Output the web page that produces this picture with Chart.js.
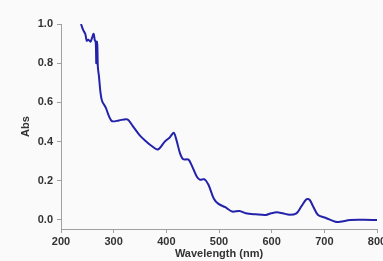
<!DOCTYPE html>
<html>
<head>
<meta charset="utf-8">
<script src="https://cdn.jsdelivr.net/npm/chart.js@4.4.1/dist/chart.umd.min.js"></script>
<style>
  html, body { margin: 0; padding: 0; background: #fafafa; }
  #wrap { width: 383px; height: 261px; }
</style>
</head>
<body>
<div id="wrap"><canvas id="myChart" width="383" height="261"></canvas></div>
<script>
// spectrum
var wavelengths = [238, 242, 246, 249, 252, 256, 259, 262, 264, 266, 267, 268, 269, 270, 272, 275, 278, 285, 291, 297, 310, 326, 336, 350, 362, 371, 384, 397, 406, 414, 419, 426, 432, 442, 448, 458, 464, 472, 480, 490, 499, 512, 525, 539, 551, 570, 589, 599, 610, 621, 634, 647, 656, 666, 672, 679, 688, 704, 721, 730, 749, 775, 800];
var absorbance = [1.0, 0.97, 0.95, 0.915, 0.92, 0.91, 0.93, 0.95, 0.92, 0.905, 0.80, 0.91, 0.89, 0.78, 0.735, 0.65, 0.607, 0.573, 0.53, 0.504, 0.508, 0.513, 0.48, 0.43, 0.40, 0.38, 0.36, 0.40, 0.42, 0.445, 0.41, 0.34, 0.31, 0.308, 0.28, 0.22, 0.205, 0.208, 0.18, 0.11, 0.082, 0.065, 0.043, 0.046, 0.034, 0.029, 0.026, 0.034, 0.039, 0.034, 0.027, 0.034, 0.068, 0.106, 0.103, 0.068, 0.026, 0.009, -0.009, -0.009, 0.0, 0.001, 0.0];
var xTicks = [200, 300, 400, 500, 600, 700, 800];
var yTicks = [0.0, 0.2, 0.4, 0.6, 0.8, 1.0];

var points = wavelengths.map((w, i) => ({ x: w, y: absorbance[i] }));

var axisColor = "#a0a0a0";
var textColor = "#333333";
var tickFont = { family: "Liberation Sans", size: 11, weight: "bold" };

new Chart("myChart", {
    type: "line",
    data: {
        datasets: [{
            data: points,
            borderColor: "#2222aa",
            borderWidth: 2,
            pointRadius: 0,
            tension: 0.3,
            fill: false
        }]
    },
    options: {
        responsive: false,
        animation: false,
        layout: { autoPadding: false, padding: { top: 24, right: 6, left: 0, bottom: 0 } },
        plugins: { legend: { display: false }, tooltip: { enabled: false } },
        scales: {
            x: {
                type: "linear",
                min: 200,
                max: 800,
                afterBuildTicks: (s) => { s.ticks = xTicks.map(v => ({ value: v })) },
                afterFit: (s) => { s.height = 32; s.paddingLeft = 0; s.paddingRight = 0 },
                grid: { drawOnChartArea: false, color: axisColor, tickLength: 4 },
                border: { color: axisColor, width: 1 },
                ticks: { color: textColor, font: tickFont, padding: 2, maxRotation: 0 },
                title: { display: true, text: "Wavelength (nm)", color: textColor, font: { family: "Liberation Sans", size: 11, weight: "bold" }, padding: 0 }
            },
            y: {
                min: -0.046,
                max: 1.0,
                afterBuildTicks: (s) => { s.ticks = yTicks.map(v => ({ value: v })) },
                afterFit: (s) => { s.width = 61 },
                grid: { drawOnChartArea: false, color: axisColor, tickLength: 4 },
                border: { color: axisColor, width: 1 },
                ticks: { color: textColor, font: tickFont, padding: 4, callback: (v) => Number(v).toFixed(1) },
                title: { display: true, text: "Abs", color: textColor, font: { family: "Liberation Sans", size: 11, weight: "bold" }, padding: { top: 19, bottom: 0 } }
            }
        }
    },
    plugins: [{
        id: "bg",
        beforeDraw: (c) => {
            c.ctx.save();
            c.ctx.fillStyle = "#fafafa";
            c.ctx.fillRect(0, 0, c.width, c.height);
            c.ctx.restore();
        }
    }]
});
</script>
</body>
</html>
